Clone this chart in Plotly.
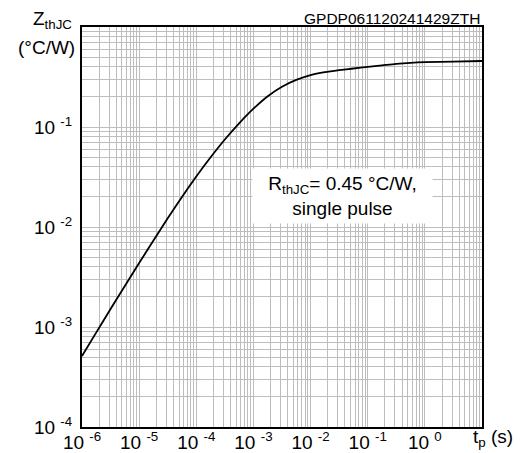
import plotly.graph_objects as go

# Pulse duration (s) and thermal impedance (°C/W)
tp = [1e-6, 1.78e-6, 3.16e-6, 5.62e-6,
      1e-5, 1.78e-5, 3.16e-5, 5.62e-5,
      1e-4, 1.78e-4, 3.16e-4, 5.62e-4,
      1e-3, 1.78e-3, 3.16e-3, 5.62e-3,
      1e-2, 1.78e-2, 3.16e-2, 5.62e-2,
      1e-1, 1.78e-1, 3.16e-1, 5.62e-1,
      1e0, 3.16e0, 1e1]
zth = [5.13e-4, 8.83e-4, 1.514e-3, 2.576e-3,
       4.355e-3, 7.33e-3, 1.222e-2, 2.000e-2,
       3.199e-2, 4.977e-2, 7.50e-2, 0.1089,
       0.1524, 0.2032, 0.2529, 0.2958,
       0.3304, 0.3532, 0.3698, 0.3846,
       0.3999, 0.4140, 0.4285, 0.4385,
       0.4446, 0.4508, 0.4571]

x_tick_vals = [1e-6, 1e-5, 1e-4, 1e-3, 1e-2, 1e-1, 1e0]
x_tick_text = ["10 <sup>-6</sup>", "10 <sup>-5</sup>", "10 <sup>-4</sup>", "10 <sup>-3</sup>",
               "10 <sup>-2</sup>", "10 <sup>-1</sup>", "10 <sup>0</sup>"]
y_tick_vals = [1e-4, 1e-3, 1e-2, 1e-1]
y_tick_text = ["10 <sup>-4</sup>", "10 <sup>-3</sup>", "10 <sup>-2</sup>", "10 <sup>-1</sup>"]

x_minor = [m * 10.0 ** e for e in range(-6, 1) for m in range(2, 10)]
y_minor = [m * 10.0 ** e for e in range(-4, 0) for m in range(2, 10)]

FONT = "Arial, Liberation Sans, sans-serif"
GRID = "#bdbdbd"

fig = go.Figure()
fig.add_trace(go.Scatter(x=tp, y=zth, mode="lines",
                         line=dict(color="black", width=1.8, shape="spline", smoothing=0.8),
                         hoverinfo="skip"))

fig.update_layout(
    width=522, height=453,
    margin=dict(l=82, r=40, t=27, b=26, autoexpand=False),
    paper_bgcolor="white", plot_bgcolor="white",
    showlegend=False,
    font=dict(family=FONT, color="black", size=19),
)
fig.update_xaxes(type="log", range=[-6, 1], tickvals=x_tick_vals, ticktext=x_tick_text,
                 automargin=False, ticklabelstandoff=-3,
                 showgrid=True, gridcolor=GRID, gridwidth=1,
                 minor=dict(tickvals=x_minor, showgrid=True, gridcolor=GRID, gridwidth=1),
                 showline=True, linecolor="black", linewidth=2, mirror=True,
                 ticks="", zeroline=False, tickfont=dict(size=19, family=FONT))
fig.update_yaxes(type="log", range=[-4, 0], tickvals=y_tick_vals, ticktext=y_tick_text,
                 automargin=False,
                 showgrid=True, gridcolor=GRID, gridwidth=1,
                 minor=dict(tickvals=y_minor, showgrid=True, gridcolor=GRID, gridwidth=1),
                 showline=True, linecolor="black", linewidth=2, mirror=True,
                 ticks="outside", ticklen=4, tickcolor="rgba(0,0,0,0)",
                 zeroline=False, tickfont=dict(size=19, family=FONT))

fig.add_annotation(x=(74 - 82) / 400, y=(427 - 20) / 400, xref="paper", yref="paper",
                   xanchor="right", yanchor="middle", showarrow=False,
                   text="Z<sub>thJC</sub>", font=dict(size=19, family=FONT))
fig.add_annotation(x=(77 - 82) / 400, y=(427 - 47) / 400, xref="paper", yref="paper",
                   xanchor="right", yanchor="middle", showarrow=False,
                   text="(°C/W)", font=dict(size=19, family=FONT))
fig.add_annotation(x=1, y=(427 - 19) / 400, xref="paper", yref="paper",
                   xanchor="right", yanchor="middle", showarrow=False,
                   text="GPDP061120241429ZTH", font=dict(size=15.5, family=FONT))
fig.add_annotation(x=(493 - 82) / 400, y=(427 - 438) / 400, xref="paper", yref="paper",
                   xanchor="center", yanchor="middle", showarrow=False,
                   text="t<sub>p</sub> (s)", font=dict(size=19, family=FONT))
fig.add_annotation(x=(342 - 82) / 400, y=(427 - 196) / 400, xref="paper", yref="paper",
                   xanchor="center", yanchor="middle", showarrow=False,
                   text="R<sub>thJC</sub>= 0.45 °C/W,<br>single pulse",
                   font=dict(size=19, family=FONT), bgcolor="white",
                   width=179, height=54, borderpad=0)

fig.write_html("out.html")
